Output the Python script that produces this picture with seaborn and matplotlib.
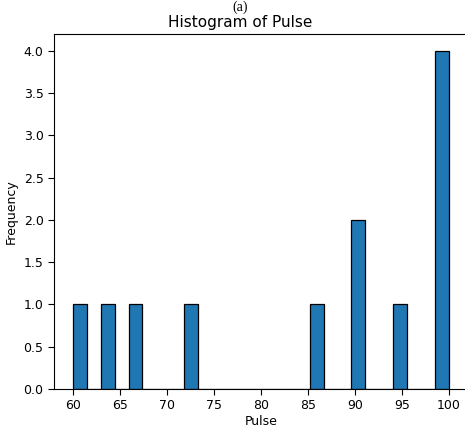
import matplotlib
matplotlib.use("Agg")
import matplotlib.pyplot as plt
import seaborn as sns
import numpy as np
import pandas as pd

pulse = [60, 63, 66, 72, 86, 90, 90, 95, 100, 100, 100, 100]
n_bins = 27
title = "Histogram of Pulse"
caption = "(a)"

df = pd.DataFrame({"Pulse": pulse})

plt.rcParams['font.family'] = ['DejaVu Sans']
fig = plt.figure(figsize=(4.65, 4.28), dpi=100)
ax = fig.add_axes([54/465, 39/428, 0.89, (389-34)/428])

sns.histplot(data=df, x="Pulse", bins=n_bins, binrange=(min(pulse), max(pulse)),
             color="#1f77b4", alpha=1.0, edgecolor="black", linewidth=0.9, ax=ax)

ax.set_xticks([60, 65, 70, 75, 80, 85, 90, 95, 100])
ax.set_yticks(np.arange(0, 4.01, 0.5))
ax.set_yticklabels([f"{v:.1f}" for v in np.arange(0, 4.01, 0.5)])
ax.tick_params(labelsize=9, length=4, width=0.8)
ax.set_xlabel("Pulse", fontsize=9, labelpad=2)
ax.set_ylabel("Frequency", fontsize=9, labelpad=4)
ax.set_title(title, fontsize=11, x=(240-54)/(0.89*465), pad=5)
for s in ax.spines.values():
    s.set_linewidth(0.8)
ax.spines['right'].set_visible(False)

fig.text(240/465, 1 - 1/428, caption, ha="center", va="top",
         fontsize=10, family=["Liberation Serif", "DejaVu Serif"])

fig.savefig("out.png", dpi=100)
